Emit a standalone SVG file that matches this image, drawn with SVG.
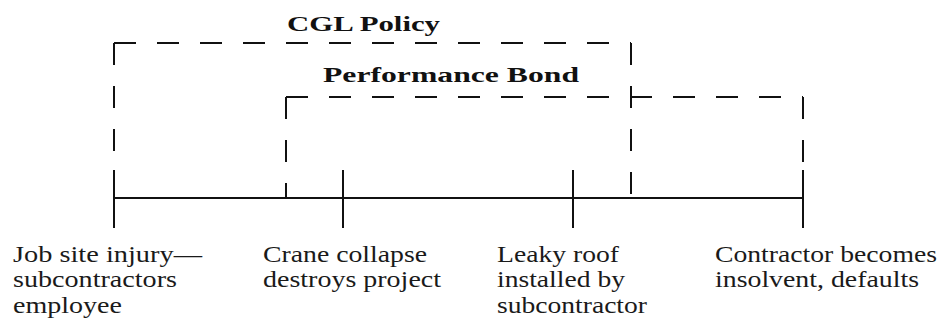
<svg xmlns="http://www.w3.org/2000/svg" width="940" height="322" viewBox="0 0 940 322">
<style>
.bg{fill:#ffffff}
.dash{fill:none;stroke:#111;stroke-width:2;stroke-dasharray:22 21}
.solid{fill:none;stroke:#111;stroke-width:2}
.title{font-family:'Liberation Serif','DejaVu Serif',serif;font-weight:bold;font-size:22px;fill:#111}
.lbl{font-family:'Liberation Serif','DejaVu Serif',serif;font-size:23px;fill:#1a1a1a}
</style>
<rect class="bg" x="0" y="0" width="940" height="322"/>
<g id="cgl-policy">
<path class="dash" d="M114 43 H631"/>
<path class="dash" d="M114 43 V198"/>
<path class="dash" d="M631 43 V198"/>
<text class="title" x="287" y="31" textLength="153" lengthAdjust="spacingAndGlyphs">CGL Policy</text>
</g>
<g id="performance-bond">
<path class="dash" d="M286 97 H803"/>
<path class="dash" d="M286 97 V198"/>
<path class="dash" d="M803 97 V198"/>
<text class="title" x="323" y="82" textLength="256" lengthAdjust="spacingAndGlyphs">Performance Bond</text>
</g>
<g id="connectors">
<line class="solid" x1="114" y1="198" x2="803" y2="198"/>
</g>
<g id="event-injury">
<line class="solid" x1="114" y1="170" x2="114" y2="228"/>
<text class="lbl" x="13" y="262" textLength="189" lengthAdjust="spacingAndGlyphs">Job site injury—</text>
<text class="lbl" x="13" y="287" textLength="164" lengthAdjust="spacingAndGlyphs">subcontractors</text>
<text class="lbl" x="13" y="313" textLength="109" lengthAdjust="spacingAndGlyphs">employee</text>
</g>
<g id="event-crane">
<line class="solid" x1="343" y1="170" x2="343" y2="228"/>
<text class="lbl" x="263" y="262" textLength="164" lengthAdjust="spacingAndGlyphs">Crane collapse</text>
<text class="lbl" x="263" y="287" textLength="178" lengthAdjust="spacingAndGlyphs">destroys project</text>
</g>
<g id="event-roof">
<line class="solid" x1="573" y1="170" x2="573" y2="228"/>
<text class="lbl" x="497" y="262" textLength="122" lengthAdjust="spacingAndGlyphs">Leaky roof</text>
<text class="lbl" x="497" y="287" textLength="128" lengthAdjust="spacingAndGlyphs">installed by</text>
<text class="lbl" x="497" y="313" textLength="150" lengthAdjust="spacingAndGlyphs">subcontractor</text>
</g>
<g id="event-default">
<line class="solid" x1="803" y1="170" x2="803" y2="228"/>
<text class="lbl" x="715" y="262" textLength="222" lengthAdjust="spacingAndGlyphs">Contractor becomes</text>
<text class="lbl" x="715" y="287" textLength="204" lengthAdjust="spacingAndGlyphs">insolvent, defaults</text>
</g>
</svg>
